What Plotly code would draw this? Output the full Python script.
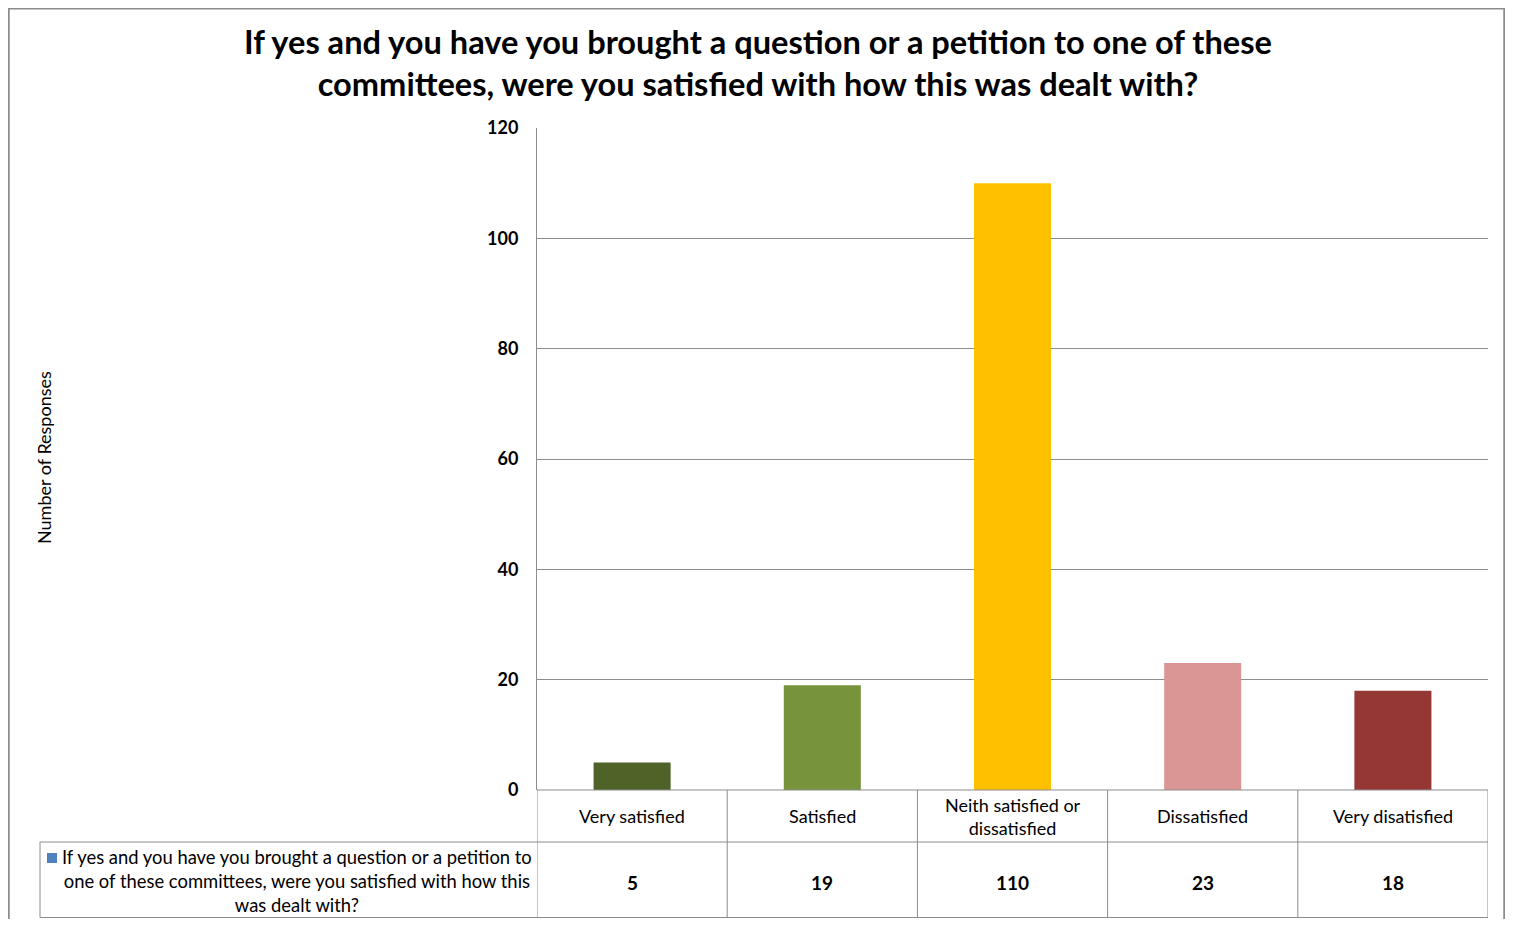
import plotly.graph_objects as go

categories = ["Very satisfied", "Satisfied", "Neith satisfied or<br>dissatisfied", "Dissatisfied", "Very disatisfied"]
values = [5, 19, 110, 23, 18]
bar_colors = ["#4F6228", "#77933C", "#FFC000", "#D99694", "#953735"]
y_ticks = [0, 20, 40, 60, 80, 100, 120]
series_name = "If yes and you have you brought a question or a petition to<br>one of these committees, were you satisfied with how this<br>was dealt with?"
title_text = "If yes and you have you brought a question or a petition to one of these<br>committees, were you satisfied with how this was dealt with?"

OFF = 8  # page body margin
W, H = 1513 - 2 * OFF, 927 - 2 * OFF
FONT = "Lato"
GRID = "#8C8C8C"

def px(x):
    return (x - OFF) / W

def py(y):
    return 1 - (y - OFF) / H

x_idx = list(range(len(categories)))

fig = go.Figure()
fig.add_trace(go.Bar(
    x=x_idx, y=values, marker=dict(color=bar_colors, line=dict(width=0)),
    width=0.405, showlegend=False, hoverinfo="y",
))

fig.update_layout(
    width=W, height=H,
    margin=dict(l=0, r=0, t=0, b=0, autoexpand=False),
    paper_bgcolor="white", plot_bgcolor="white",
    font=dict(family=FONT, color="black"),
    showlegend=False,
    xaxis=dict(domain=[px(537), px(1488)], range=[-0.5, 4.5], showticklabels=False,
               showgrid=False, zeroline=False, showline=False, ticks="", automargin=False),
    yaxis=dict(domain=[py(790), py(128)], range=[0, 120], tickvals=y_ticks,
               showgrid=True, gridcolor=GRID, gridwidth=1, zeroline=False,
               showline=True, linecolor=GRID, linewidth=1, ticks="", ticklen=0,
               tickfont=dict(family=FONT, size=18, color="black", weight="bold"),
               ticklabelstandoff=14, automargin=False),
)

TB = 917.5  # table bottom
shapes = []
# outer border
shapes.append(dict(type="rect", xref="paper", yref="paper", x0=0.0005, x1=0.9995, y0=-0.01, y1=0.9995,
                   line=dict(color="#8C8C8C", width=2), fillcolor="rgba(0,0,0,0)"))
# table horizontal lines
for (x0, y) in [(537, 790), (40, 842), (40, TB)]:
    shapes.append(dict(type="line", xref="paper", yref="paper", x0=px(x0), x1=px(1488), y0=py(y), y1=py(y),
                       line=dict(color=GRID, width=1)))
# table vertical lines
shapes.append(dict(type="line", xref="paper", yref="paper", x0=px(40), x1=px(40), y0=py(842), y1=py(TB),
                   line=dict(color=GRID, width=1)))
for i in range(len(categories) + 1):
    shapes.append(dict(type="line", xref="x", yref="paper", x0=i - 0.5, x1=i - 0.5, y0=py(790), y1=py(TB),
                       line=dict(color=GRID, width=1)))
# legend key square
shapes.append(dict(type="rect", xref="paper", yref="paper", x0=px(47), x1=px(57), y0=py(863), y1=py(853),
                   line=dict(width=0), fillcolor="#4F81BD"))
fig.update_layout(shapes=shapes)

ann = []
ann.append(dict(text="<b>" + title_text + "</b>", xref="paper", yref="paper", x=px(758), y=py(62),
                showarrow=False, font=dict(family=FONT, size=32.6, color="black"), align="center",
                xanchor="center", yanchor="middle"))
ann.append(dict(text="Number of Responses", xref="paper", yref="paper", x=px(44), y=py(458), textangle=-90,
                showarrow=False, font=dict(family=FONT, size=18, color="black"), xanchor="center", yanchor="middle"))
for i, c in enumerate(categories):
    ann.append(dict(text=c, xref="x", yref="paper", x=i, y=py(816), showarrow=False,
                    font=dict(family=FONT, size=18, color="black"), xanchor="center", yanchor="middle", align="center"))
    ann.append(dict(text="<b>%d</b>" % values[i], xref="x", yref="paper", x=i, y=py(882), showarrow=False,
                    font=dict(family=FONT, size=19, color="black"), xanchor="center", yanchor="middle"))
ann.append(dict(text=series_name, xref="paper", yref="paper",
                x=px(297), y=py(881), showarrow=False, font=dict(family=FONT, size=18.4, color="black"),
                xanchor="center", yanchor="middle", align="center"))
fig.update_layout(annotations=ann)

fig.write_html("out.html")
